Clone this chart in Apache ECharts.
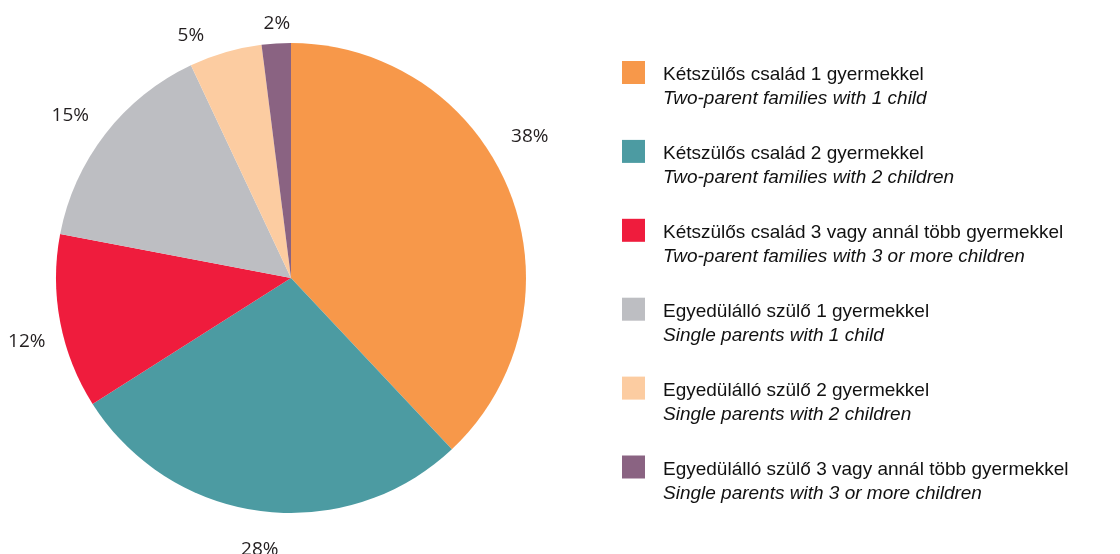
<!DOCTYPE html>
<html>
<head>
<meta charset="utf-8">
<script src="https://cdn.jsdelivr.net/npm/echarts@6/dist/echarts.min.js"></script>
<style>
  html, body { margin: 0; padding: 0; background: #fff; }
  #main { width: 1120px; height: 554px; }
</style>
</head>
<body>
<div id="main"></div>
<script>
// category names (Hungarian / English) and shares in %
var namesHu = [
  'Kétszülős család 1 gyermekkel',
  'Kétszülős család 2 gyermekkel',
  'Kétszülős család 3 vagy annál több gyermekkel',
  'Egyedülálló szülő 1 gyermekkel',
  'Egyedülálló szülő 2 gyermekkel',
  'Egyedülálló szülő 3 vagy annál több gyermekkel'
];
var namesEn = [
  'Two-parent families with 1 child',
  'Two-parent families with 2 children',
  'Two-parent families with 3 or more children',
  'Single parents with 1 child',
  'Single parents with 2 children',
  'Single parents with 3 or more children'
];
var shares = [38, 28, 12, 15, 5, 2];
var colors = ['#F7984A', '#4C9BA2', '#EF1C3D', '#BDBEC2', '#FCCCA1', '#8A6382'];
// small nudges of the percentage labels, like the original layout
var labelNudge = [[-15, -41], [3, 1], [4, 12], [-5, 5], [-24, 20], [3, 18]];

var pieData = namesHu.map(function (n, i) {
  return { name: n, value: shares[i] };
});
var labelData = namesHu.map(function (n, i) {
  return { name: n, value: shares[i], label: { offset: labelNudge[i] } };
});

var legendFont = 'Liberation Sans';

var chart = echarts.init(document.getElementById('main'));
var option = {
  animation: false,
  color: colors,
  legend: {
    orient: 'vertical',
    left: 622,
    top: 39,
    padding: 0,
    itemWidth: 23,
    itemHeight: 23,
    itemGap: 9.4,
    icon: 'rect',
    data: namesHu,
    formatter: function (name) {
      var i = namesHu.indexOf(name);
      return '{e| }\n{a|' + name + '}\n{b|' + namesEn[i] + '}';
    },
    textStyle: {
      fontFamily: legendFont,
      fontSize: 19,
      color: '#111',
      rich: {
        e: { fontFamily: legendFont, fontSize: 19, lineHeight: 29, padding: [0, 0, 0, 13] },
        a: { fontFamily: legendFont, fontSize: 19, lineHeight: 24, color: '#111', padding: [0, 0, 0, 13] },
        b: { fontFamily: legendFont, fontSize: 19, lineHeight: 24, color: '#111', fontStyle: 'italic', padding: [0, 0, 0, 13] }
      }
    }
  },
  series: [
    {
      // the pie itself
      type: 'pie',
      center: [291, 278],
      radius: 235,
      startAngle: 90,
      clockwise: true,
      avoidLabelOverlap: false,
      label: { show: false },
      labelLine: { show: false },
      emphasis: { disabled: true },
      itemStyle: { borderWidth: 0 },
      data: pieData
    },
    {
      // transparent ring that carries the percentage labels
      type: 'pie',
      center: [291, 278],
      radius: [250, 290],
      startAngle: 90,
      clockwise: true,
      silent: true,
      avoidLabelOverlap: false,
      itemStyle: { color: 'rgba(0,0,0,0)' },
      label: {
        show: true,
        position: 'inside',
        formatter: '{c}%',
        fontFamily: 'Open Sans',
        fontSize: 19,
        color: '#231F20'
      },
      labelLine: { show: false },
      emphasis: { disabled: true },
      data: labelData
    }
  ]
};
chart.setOption(option);
</script>
</body>
</html>
